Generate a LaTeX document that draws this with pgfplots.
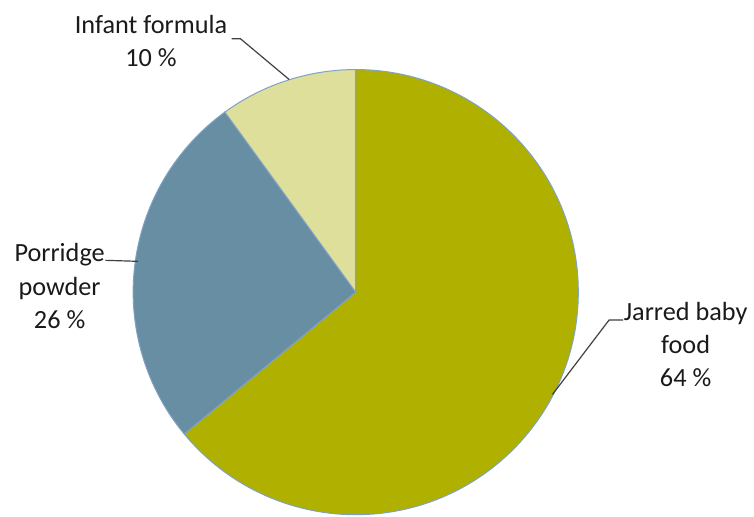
\documentclass[border=0pt]{standalone}
\usepackage{pgfplots}
\pgfplotsset{compat=1.18}
\usepackage{fontspec}
\setmainfont{Carlito}
\definecolor{jarred}{HTML}{AFB000}
\definecolor{porridge}{HTML}{678EA3}
\definecolor{infant}{HTML}{DFDF9C}
\definecolor{edge}{HTML}{7FA3C4}
\definecolor{txt}{HTML}{1A1A1A}
\begin{document}
\begin{tikzpicture}
% values (percent)
\def\vJ{64}\def\vP{26}\def\vI{10}
\pgfmathsetmacro\aA{90}
\pgfmathsetmacro\aB{90-3.6*\vJ}
\pgfmathsetmacro\aC{\aB-3.6*\vP}
\pgfmathsetmacro\aD{\aC-3.6*\vI}
\begin{axis}[
  x=0.5pt, y=0.5pt,
  xmin=0, xmax=754, ymin=0, ymax=520,
  hide axis, clip=false,
  scale only axis,
]
\path (axis cs:0,0) rectangle (axis cs:754,520);
\filldraw[fill=jarred, draw=edge, line width=0.5pt]
  (axis cs:358,226) -- (axis cs:{358+224*cos(\aA)},{226+224*sin(\aA)})
  arc[start angle=\aA, end angle=\aB, radius=112pt] -- cycle;
\filldraw[fill=porridge, draw=edge, line width=0.5pt]
  (axis cs:358,226) -- (axis cs:{358+224*cos(\aB)},{226+224*sin(\aB)})
  arc[start angle=\aB, end angle=\aC, radius=112pt] -- cycle;
\filldraw[fill=infant, draw=edge, line width=0.5pt]
  (axis cs:358,226) -- (axis cs:{358+224*cos(\aC)},{226+224*sin(\aC)})
  arc[start angle=\aC, end angle=\aD, radius=112pt] -- cycle;
% leader lines
\draw[black!75, line width=0.6pt] (axis cs:233,481) -- (axis cs:242,481) -- (axis cs:291,440);
\draw[black!75, line width=0.6pt] (axis cs:106,258) -- (axis cs:139,257);
\draw[black!75, line width=0.6pt] (axis cs:627,198) -- (axis cs:613,198) -- (axis cs:556,123);
% labels
\node[align=center, text=txt, font=\fontsize{13.2}{16.7}\selectfont] at (axis cs:152,479) {Infant formula\\10 \%};
\node[align=center, text=txt, font=\fontsize{13.2}{16.7}\selectfont] at (axis cs:60,232) {Porridge\\powder\\26 \%};
\node[align=center, text=txt, font=\fontsize{13.2}{16.7}\selectfont] at (axis cs:690,173) {Jarred baby\\food\\64 \%};
\end{axis}
\end{tikzpicture}
\end{document}
